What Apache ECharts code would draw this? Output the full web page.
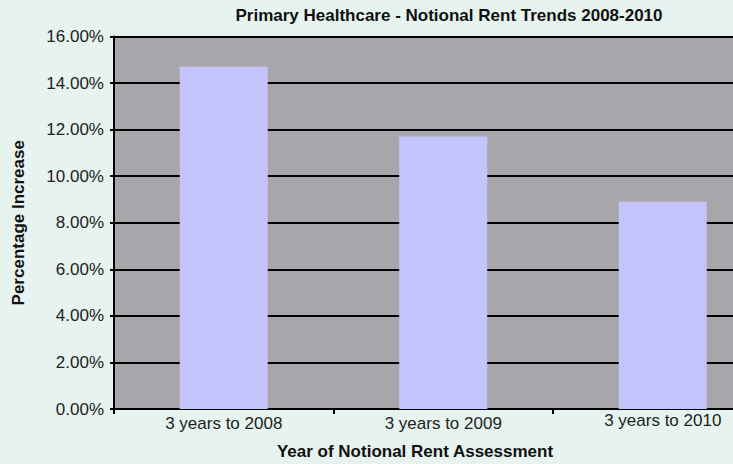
<!DOCTYPE html>
<html>
<head>
<meta charset="utf-8">
<script src="https://cdn.jsdelivr.net/npm/echarts@6/dist/echarts.min.js"></script>
<style>
html,body{margin:0;padding:0;background:#E6F3EF;overflow:hidden;width:733px;height:464px;}
#chart{width:773px;height:464px;}
</style>
</head>
<body>
<div id="chart"></div>
<script>
var titleText = 'Primary Healthcare - Notional Rent Trends 2008-2010';
var xAxisTitle = 'Year of Notional Rent Assessment';
var yAxisTitle = 'Percentage Increase';
var categories = ['3 years to 2008', '3 years to 2009', '3 years to 2010'];
var rentIncrease = [14.7, 11.7, 8.9];
var yTicks = [0, 2, 4, 6, 8, 10, 12, 14, 16];

var FONT = '"Liberation Sans", Arial, Helvetica, sans-serif';
var categoryItems = categories.map(function (c, i) {
  return i === categories.length - 1 ? {value: c, textStyle: {lineHeight: 11}} : c;
});
var chart = echarts.init(document.getElementById('chart'), null, {renderer: 'svg'});
chart.setOption({
  backgroundColor: '#E6F3EF',
  animation: false,
  title: [
    {text: titleText, left: 449, top: 7, padding: 0, textAlign: 'center',
     textStyle: {fontFamily: FONT, fontSize: 17, fontWeight: 'bold', color: '#111'}},
    {text: xAxisTitle, left: 415, top: 443, padding: 0, textAlign: 'center',
     textStyle: {fontFamily: FONT, fontSize: 17, fontWeight: 'bold', color: '#111'}}
  ],
  grid: {left: 114, top: 36.5, right: 0.5, height: 372.5, show: true,
         backgroundColor: '#A7A7AB', borderWidth: 0},
  xAxis: {
    type: 'category', data: categoryItems,
    axisLine: {lineStyle: {color: '#000', width: 2}},
    axisTick: {show: true, length: 5, lineStyle: {color: '#000', width: 2}},
    axisLabel: {fontFamily: FONT, fontSize: 17, color: '#222', margin: 6}
  },
  yAxis: {
    type: 'value', min: yTicks[0], max: yTicks[yTicks.length - 1], interval: 2,
    name: yAxisTitle, nameLocation: 'middle', nameGap: 87,
    nameTextStyle: {fontFamily: FONT, fontSize: 17, fontWeight: 'bold', color: '#111'},
    axisLine: {show: true, lineStyle: {color: '#000', width: 2}},
    axisTick: {show: true, length: 4, lineStyle: {color: '#000', width: 2}},
    splitLine: {lineStyle: {color: '#000', width: 2}},
    axisLabel: {fontFamily: FONT, fontSize: 17, color: '#222', margin: 10,
      formatter: function (v) { return v.toFixed(2) + '%'; }}
  },
  series: [{
    type: 'bar', data: rentIncrease, barWidth: 88,
    itemStyle: {color: '#C4C4FC'}
  }]
});
</script>
</body>
</html>
